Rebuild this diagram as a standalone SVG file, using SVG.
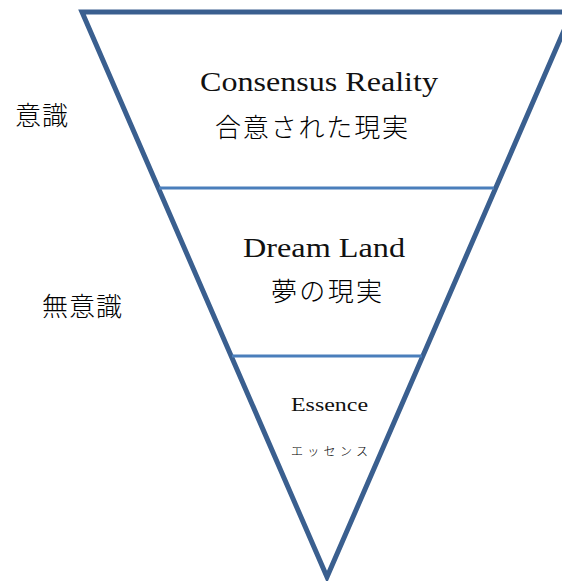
<svg xmlns="http://www.w3.org/2000/svg" width="562" height="581" viewBox="0 0 562 581">
<style>
.tri{fill:none;stroke:#3A5F8F;stroke-width:5;stroke-linejoin:miter}
.div{stroke:#4A7EBB;stroke-width:3}
.lat{font-family:"Liberation Serif",serif;fill:#111}
.cjk{font-family:"Liberation Serif","Noto Sans CJK JP",sans-serif;fill:#000;font-weight:300}
</style>
<rect width="562" height="581" fill="#fff"/>
<g id="connectors">
<polygon class="tri" points="82,12 572,12 327,577"/>
<line class="div" x1="159" y1="188" x2="494" y2="188"/>
<line class="div" x1="232" y1="356" x2="422" y2="356"/>
</g>
<g id="consensus">
<text class="lat" x="200" y="91" font-size="27" textLength="238" lengthAdjust="spacingAndGlyphs">Consensus Reality</text>
<text class="cjk" x="215" y="137" font-size="26" textLength="193" lengthAdjust="spacing">合意された現実</text>
</g>
<g id="dreamland">
<text class="lat" x="243" y="257" font-size="27" textLength="162" lengthAdjust="spacingAndGlyphs">Dream Land</text>
<text class="cjk" x="271" y="301" font-size="26" textLength="111" lengthAdjust="spacing">夢の現実</text>
</g>
<g id="essence">
<text class="lat" x="291" y="411" font-size="19.5" textLength="77" lengthAdjust="spacingAndGlyphs">Essence</text>
<text class="cjk" x="291" y="456" font-size="12" textLength="77" lengthAdjust="spacing">エッセンス</text>
</g>
<g id="ishiki">
<text class="cjk" x="15" y="125" font-size="26" textLength="53" lengthAdjust="spacing">意識</text>
</g>
<g id="muishiki">
<text class="cjk" x="42" y="316" font-size="26" textLength="80" lengthAdjust="spacing">無意識</text>
</g>
</svg>
